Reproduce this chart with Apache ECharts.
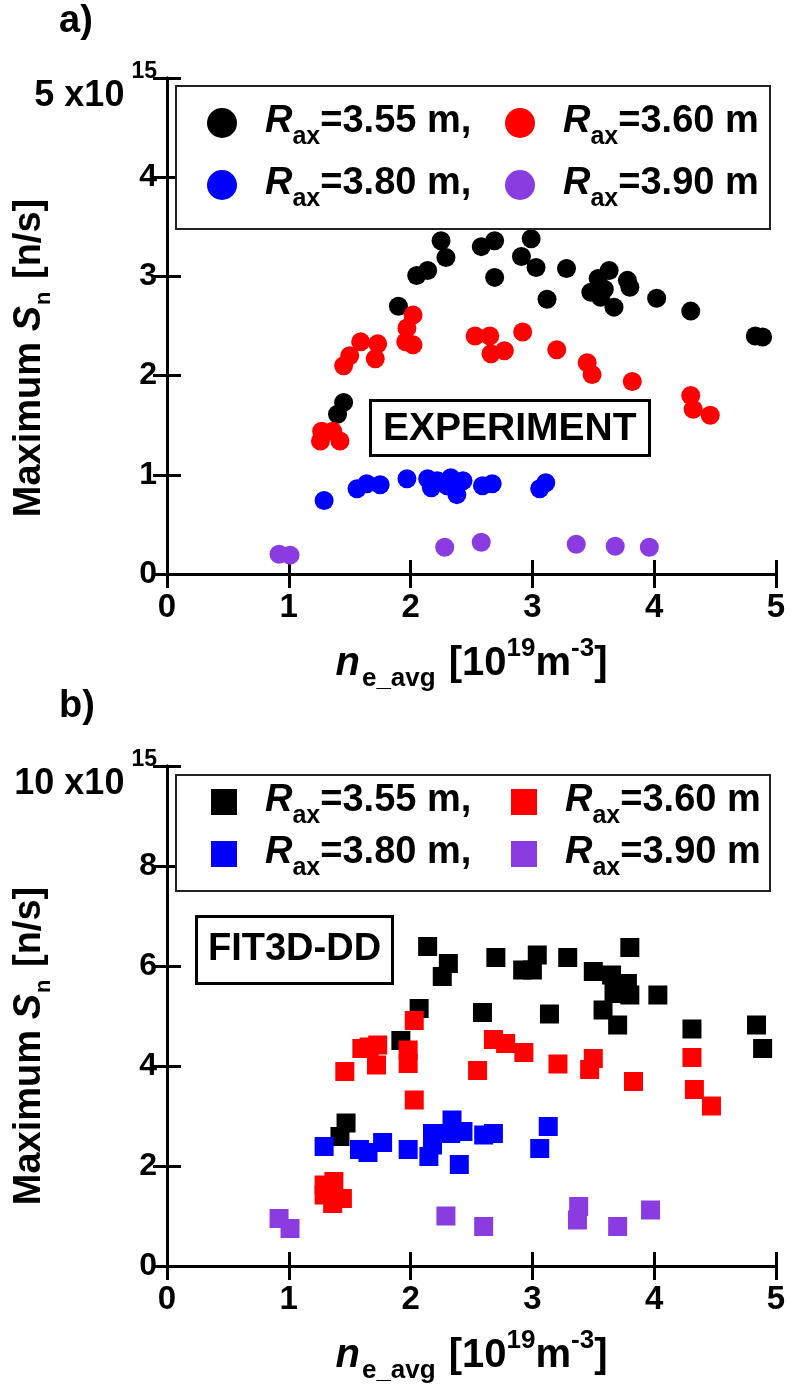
<!DOCTYPE html>
<html>
<head>
<meta charset="utf-8">
<script src="https://cdn.jsdelivr.net/npm/echarts@6/dist/echarts.min.js"></script>
<style>
  html, body { margin: 0; background: #fff; }
  #chart { width: 790px; height: 1388px; }
</style>
</head>
<body>
<div id="chart"></div>
<script>
  // legend text after "R_ax=" (same order as series)
  const raxLabels = ['3.55 m,', '3.60 m', '3.80 m,', '3.90 m']
  const colors = ['#000000', '#ff0000', '#0000ff', '#8a3ce0']
  const xTicks = [0, 1, 2, 3, 4, 5]
  const yTicksA = [0, 1, 2, 3, 4, 5]
  const yTicksB = [0, 2, 4, 6, 8, 10]
  const yExponent = '15'

  // a) EXPERIMENT : [n_e_avg (1e19 m^-3), max S_n (1e15 n/s)]
  const expR355 = [[2.25, 3.36], [2.29, 3.19], [2.14, 3.06], [2.05, 3.01], [1.90, 2.70], [1.45, 1.73], [1.40, 1.61],
    [2.58, 3.30], [2.69, 3.36], [2.69, 2.99], [2.99, 3.38], [2.91, 3.20], [3.03, 3.09], [3.28, 3.08], [3.12, 2.77],
    [3.63, 3.06], [3.54, 2.98], [3.78, 2.96], [3.48, 2.84], [3.59, 2.87], [3.67, 2.69], [3.80, 2.89], [3.56, 2.79],
    [4.02, 2.78], [4.30, 2.65], [4.83, 2.40], [4.89, 2.39]]
  const expR360 = [[2.02, 2.61], [1.97, 2.48], [2.02, 2.31], [1.96, 2.34], [1.59, 2.34], [1.73, 2.32], [1.71, 2.17],
    [1.50, 2.20], [1.45, 2.10], [1.26, 1.34], [1.36, 1.44], [1.42, 1.34], [1.27, 1.44], [2.53, 2.40], [2.65, 2.40],
    [2.66, 2.22], [2.77, 2.25], [2.92, 2.44], [3.20, 2.26], [3.45, 2.13], [3.49, 2.01], [3.82, 1.94], [4.30, 1.80],
    [4.32, 1.66], [4.46, 1.60]]
  const expR380 = [[1.29, 0.74], [1.56, 0.86], [1.64, 0.91], [1.75, 0.90], [1.97, 0.96], [2.14, 0.96], [2.22, 0.94],
    [2.17, 0.87], [2.33, 0.97], [2.43, 0.94], [2.38, 0.80], [2.30, 0.89], [2.59, 0.89], [2.67, 0.91], [3.06, 0.86],
    [3.11, 0.92]]
  const expR390 = [[0.92, 0.20], [1.01, 0.19], [2.28, 0.27], [2.58, 0.32], [3.36, 0.30], [3.68, 0.28], [3.96, 0.27]]

  // b) FIT3D-DD
  const fitR355 = [[2.14, 6.39], [2.31, 6.05], [2.26, 5.79], [2.07, 5.15], [1.92, 4.51], [2.59, 5.07], [1.47, 2.86],
    [1.42, 2.59], [2.70, 6.17], [3.04, 6.22], [2.92, 5.92], [3.00, 5.92], [3.29, 6.17], [3.14, 5.04], [3.80, 6.37],
    [3.50, 5.89], [3.65, 5.82], [3.78, 5.65], [3.67, 5.45], [3.80, 5.42], [3.58, 5.12], [3.70, 4.82], [4.03, 5.42],
    [4.31, 4.74], [4.84, 4.82], [4.89, 4.35]]
  const fitR360 = [[2.03, 4.91], [1.98, 4.32], [1.98, 4.05], [2.03, 3.32], [1.60, 4.35], [1.66, 4.38], [1.73, 4.42],
    [1.72, 4.02], [1.46, 3.89], [2.55, 3.91], [2.68, 4.53], [2.78, 4.45], [2.93, 4.27], [3.21, 4.04], [3.50, 4.15],
    [3.47, 3.93], [3.83, 3.69], [4.31, 4.17], [4.33, 3.53], [4.47, 3.20], [1.29, 1.62], [1.37, 1.69], [1.44, 1.35],
    [1.36, 1.25], [1.29, 1.42]]
  const fitR380 = [[1.29, 2.39], [1.58, 2.33], [1.65, 2.27], [1.77, 2.47], [1.98, 2.33], [2.15, 2.19], [2.18, 2.65],
    [2.25, 2.65], [2.34, 2.92], [2.33, 2.65], [2.43, 2.69], [2.40, 2.03], [2.60, 2.62], [2.68, 2.65], [2.18, 2.42],
    [3.06, 2.35], [3.13, 2.79]]
  const fitR390 = [[0.92, 0.95], [1.01, 0.75], [2.29, 1.00], [2.60, 0.79], [3.38, 1.19], [3.37, 0.92], [3.70, 0.79],
    [3.97, 1.12]]

  const FONT = '"Liberation Sans", Arial, Helvetica, sans-serif'
  const chart = echarts.init(document.getElementById('chart'), null, {renderer: 'canvas'})

  const panels = [
    {top: 78, height: 496, ticks: yTicksA, data: [expR355, expR360, expR380, expR390], symbol: 'circle', size: 19,
      icon: 'circle', iconSize: 30, rows: [126, 188], cols: [207, 505], box: [176, 86, 594, 143]},
    {top: 766, height: 500, ticks: yTicksB, data: [fitR355, fitR360, fitR380, fitR390], symbol: 'rect', size: 19,
      icon: 'rect', iconSize: 26, rows: [805, 857], cols: [211, 511], box: [176, 775, 594, 116]}
  ]

  const grids = [], xAxes = [], yAxes = [], series = [], legends = [], graphics = []
  const seriesLabel = {}

  const xName = '{i|n}{s|e_avg}{m| [10}{p|19}{m|m}{p|-3}{m|]}'
  const xNameRich = {
    i: {fontSize: 40, fontWeight: 'bold', fontStyle: 'italic', lineHeight: 40, verticalAlign: 'top', padding: [8, 0, 0, 0]},
    m: {fontSize: 40, fontWeight: 'bold', lineHeight: 40, verticalAlign: 'top', padding: [8, 0, 0, 0]},
    s: {fontSize: 26, fontWeight: 'bold', lineHeight: 26, verticalAlign: 'top', padding: [30, 2, 0, 2]},
    p: {fontSize: 26, fontWeight: 'bold', lineHeight: 26, verticalAlign: 'top', padding: [0, 0, 0, 0]}
  }
  const legendRich = {
    r: {fontSize: 38, fontWeight: 'bold', fontStyle: 'italic', lineHeight: 40, verticalAlign: 'top', padding: [0, 0, 0, 23]},
    s: {fontSize: 25, fontWeight: 'bold', lineHeight: 24, verticalAlign: 'top', padding: [22, 0, 0, 0]},
    t: {fontSize: 38, fontWeight: 'bold', lineHeight: 40, verticalAlign: 'top'}
  }

  panels.forEach((p, k) => {
    const yMax = p.ticks[p.ticks.length - 1]
    grids.push({left: 167, top: p.top, width: 609, height: p.height})
    const lineStyle = {color: '#000', width: 3}
    const tick = {show: true, inside: true, length: 14, lineStyle: {color: '#000', width: 3}}
    xAxes.push({
      gridIndex: k, type: 'value', min: xTicks[0], max: xTicks[xTicks.length - 1], interval: 1,
      axisLine: {lineStyle: lineStyle}, axisTick: tick, splitLine: {show: false},
      axisLabel: {fontSize: 33, fontWeight: 'bold', color: '#000', margin: 17, showMaxLabel: true, showMinLabel: true},
      name: xName, nameLocation: 'middle', nameGap: 62,
      nameTextStyle: {color: '#000', rich: xNameRich}
    })
    xAxes.push({
      gridIndex: k, type: 'value', position: 'top', min: xTicks[0], max: xTicks[xTicks.length - 1], interval: 1,
      axisLine: {lineStyle: lineStyle}, axisTick: tick, axisLabel: {show: false}, splitLine: {show: false}
    })
    yAxes.push({
      gridIndex: k, type: 'value', min: p.ticks[0], max: yMax, interval: p.ticks[1] - p.ticks[0],
      axisLine: {lineStyle: lineStyle}, axisTick: tick, splitLine: {show: false},
      axisLabel: {
        fontSize: 32, fontWeight: 'bold', color: '#000', margin: 10, showMaxLabel: true, hideOverlap: false,
        formatter: v => v === yMax ? '{b|' + v + ' x10}{e|' + yExponent + '}' : String(v),
        rich: {
          b: {fontSize: 36, fontWeight: 'bold', lineHeight: 36, verticalAlign: 'top', padding: [18, 0, 0, 0]},
          e: {fontSize: 23, fontWeight: 'bold', lineHeight: 23, verticalAlign: 'top', padding: [0, 0, 0, 7]}
        }
      }
    })
    yAxes.push({
      gridIndex: k, type: 'value', position: 'right', min: p.ticks[0], max: yMax, interval: p.ticks[1] - p.ticks[0],
      axisLine: {lineStyle: lineStyle}, axisTick: tick, axisLabel: {show: false}, splitLine: {show: false}
    })

    p.data.forEach((d, i) => {
      const name = 'p' + k + 's' + i
      seriesLabel[name] = raxLabels[i]
      series.push({
        name: name, type: 'scatter', xAxisIndex: k * 2, yAxisIndex: k * 2,
        symbol: p.symbol, symbolSize: p.size, data: d,
        itemStyle: {color: colors[i], opacity: 1}, z: 2 + i
      })
      legends.push({
        data: [{name: name, icon: p.icon}], orient: 'horizontal', padding: 0,
        left: p.cols[i % 2], top: p.rows[Math.floor(i / 2)] - 23,
        itemWidth: p.iconSize, itemHeight: p.iconSize, selectedMode: false, z: 6,
        formatter: n => '{r|R}{s|ax}{t|=' + seriesLabel[n] + '}',
        textStyle: {color: '#000', rich: legendRich}
      })
    })

    graphics.push({
      type: 'rect', z: 5,
      shape: {x: p.box[0], y: p.box[1], width: p.box[2], height: p.box[3]},
      style: {fill: '#fff', stroke: '#222', lineWidth: 2}
    })
  })

  // rotated y titles
  const yTitle = '{m|Maximum }{i|S}{s|n}{m| [n/s]}'
  const yTitleRich = {
    m: {fontSize: 38, fontWeight: 'bold', lineHeight: 38, verticalAlign: 'top'},
    i: {fontSize: 38, fontWeight: 'bold', fontStyle: 'italic', lineHeight: 38, verticalAlign: 'top'},
    s: {fontSize: 22, fontWeight: 'bold', lineHeight: 22, verticalAlign: 'top', padding: [22, 2, 0, 1]}
  }
  ;[358, 1046].forEach(cy => {
    graphics.push({
      type: 'text', x: 30, y: cy, rotation: Math.PI / 2, z: 5,
      style: {text: yTitle, rich: yTitleRich, align: 'center', verticalAlign: 'middle', fill: '#000', font: 'bold 38px ' + FONT}
    })
  })

  chart.setOption({
    animation: false,
    backgroundColor: '#fff',
    textStyle: {fontFamily: FONT, color: '#000'},
    title: [
      {text: 'a)', left: 59, top: 3, padding: 0, textStyle: {fontSize: 38, fontWeight: 'bold', color: '#000'}},
      {text: 'b)', left: 59, top: 688, padding: 0, textStyle: {fontSize: 38, fontWeight: 'bold', color: '#000'}},
      {text: 'EXPERIMENT', left: 370, top: 400, padding: [7, 13, 5, 13], borderWidth: 3, borderColor: '#000',
        backgroundColor: '#fff', textStyle: {fontSize: 39, fontWeight: 'bold', color: '#000', lineHeight: 44}},
      {text: 'FIT3D-DD', left: 196, top: 916, padding: [12, 12, 12, 12], borderWidth: 3, borderColor: '#000',
        backgroundColor: '#fff', textStyle: {fontSize: 38, fontWeight: 'bold', color: '#000', lineHeight: 44}}
    ],
    grid: grids,
    xAxis: xAxes,
    yAxis: yAxes,
    legend: legends,
    graphic: graphics,
    series: series
  })
</script>
</body>
</html>
